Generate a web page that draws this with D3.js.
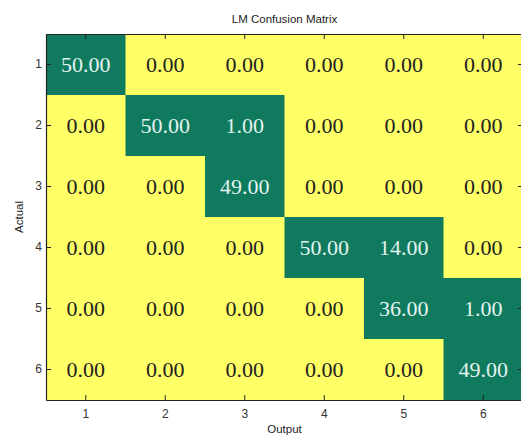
<!DOCTYPE html>
<html>
<head>
<meta charset="utf-8">
<script src="https://cdn.jsdelivr.net/npm/d3@7"></script>
<style>
  body { margin: 0; background: #fff; }
  svg { display: block; }
</style>
</head>
<body>
<div id="chart"></div>
<script>
// Class labels and confusion matrix rows (Actual x Output)
var classes = ["1", "2", "3", "4", "5", "6"];
var row1 = [50, 0, 0, 0, 0, 0];
var row2 = [0, 50, 1, 0, 0, 0];
var row3 = [0, 0, 49, 0, 0, 0];
var row4 = [0, 0, 0, 50, 14, 0];
var row5 = [0, 0, 0, 0, 36, 1];
var row6 = [0, 0, 0, 0, 0, 49];
var rows = [row1, row2, row3, row4, row5, row6];

var margin = { top: 34, right: -2, bottom: 36, left: 46 },
  width = 521 - margin.left - margin.right,
  height = 436 - margin.top - margin.bottom;

var svg = d3.select("#chart")
  .append("svg")
  .attr("width", 521)
  .attr("height", 436)
  .append("g")
  .attr("transform", "translate(" + margin.left + "," + margin.top + ")");

var x = d3.scaleBand().domain(classes).range([0, width]);
var y = d3.scaleBand().domain(classes).range([0, height]);

// flatten to cells
var cells = [];
rows.forEach(function (r, i) {
  r.forEach(function (v, j) {
    cells.push({ actual: classes[i], output: classes[j], value: v });
  });
});

var green = "#0f7a5e", yellow = "#ffff66";

svg.selectAll("rect.cell")
  .data(cells)
  .enter()
  .append("rect")
  .attr("class", "cell")
  .attr("x", d => x(d.output))
  .attr("y", d => y(d.actual))
  .attr("width", x.bandwidth() + 0.5)
  .attr("height", y.bandwidth() + 0.5)
  .attr("fill", d => d.value > 0 ? green : yellow);

svg.selectAll("text.val")
  .data(cells)
  .enter()
  .append("text")
  .attr("class", "val")
  .attr("x", d => x(d.output) + x.bandwidth() / 2)
  .attr("y", d => y(d.actual) + y.bandwidth() / 2)
  .attr("text-anchor", "middle")
  .attr("dy", "0.35em")
  .style("font-family", "'Liberation Serif', 'DejaVu Serif', serif")
  .style("font-size", "22px")
  .style("fill", d => d.value > 0 ? "#e3f3ee" : "#222")
  .text(d => d.value.toFixed(2));

// axes, MATLAB style: ticks inside
var tickLen = 5;
var axisFont = "'Liberation Sans', Arial, sans-serif";

var xAxis = svg.append("g")
  .attr("transform", "translate(0," + height + ")")
  .call(d3.axisBottom(x).tickSizeInner(-tickLen).tickSizeOuter(0).tickPadding(9));
var yAxis = svg.append("g")
  .call(d3.axisLeft(y).tickSizeInner(-tickLen).tickSizeOuter(0).tickPadding(4));
var xTop = svg.append("g")
  .call(d3.axisTop(x).tickSizeInner(-tickLen).tickSizeOuter(0).tickFormat(""));
var yRight = svg.append("g")
  .attr("transform", "translate(" + width + ",0)")
  .call(d3.axisRight(y).tickSizeInner(-tickLen).tickSizeOuter(0).tickFormat(""));

[xAxis, yAxis, xTop, yRight].forEach(function (g) {
  g.select(".domain").attr("stroke", "#222").attr("stroke-width", 1.2);
  g.selectAll(".tick line").attr("stroke", "#222");
  g.selectAll("text")
    .style("font-family", axisFont)
    .style("font-size", "12px")
    .style("fill", "#333");
});

// title and labels
svg.append("text")
  .attr("x", width / 2)
  .attr("y", -11)
  .attr("text-anchor", "middle")
  .style("font-family", axisFont)
  .style("font-size", "11.5px")
  .style("fill", "#222")
  .text("LM Confusion Matrix");

svg.append("text")
  .attr("x", width / 2)
  .attr("y", height + 33)
  .attr("text-anchor", "middle")
  .style("font-family", axisFont)
  .style("font-size", "11.5px")
  .style("fill", "#222")
  .text("Output");

svg.append("text")
  .attr("transform", "translate(-23," + (height / 2) + ")rotate(-90)")
  .attr("text-anchor", "middle")
  .style("font-family", axisFont)
  .style("font-size", "11.5px")
  .style("fill", "#222")
  .text("Actual");
</script>
</body>
</html>
